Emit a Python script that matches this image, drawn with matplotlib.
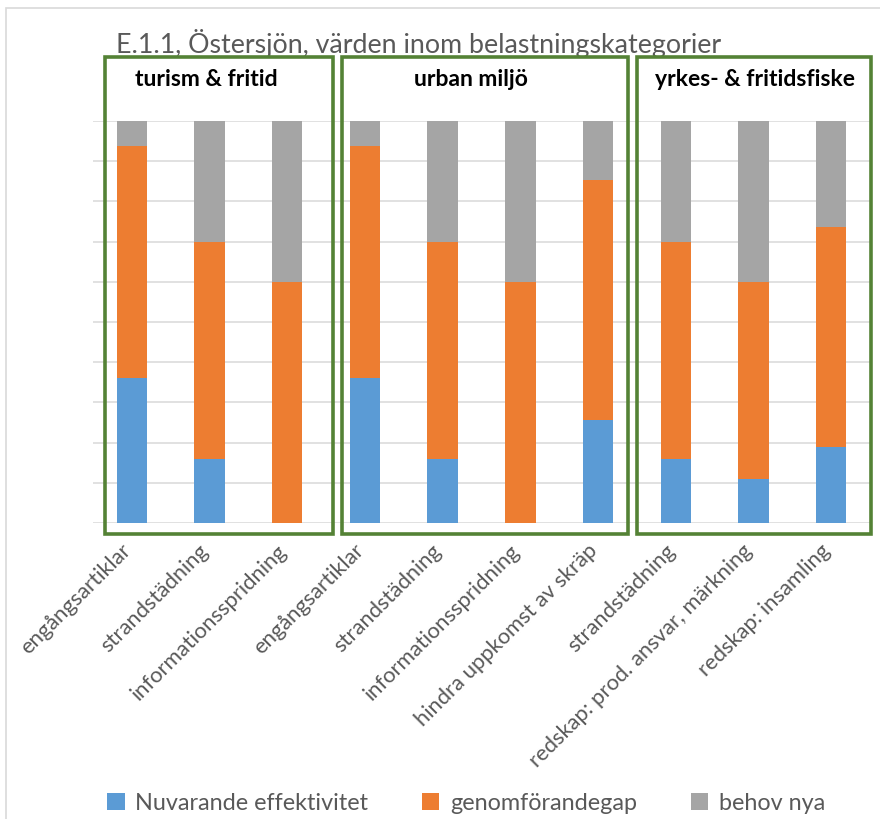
import matplotlib
matplotlib.use("Agg")
import matplotlib.pyplot as plt
from matplotlib.patches import Rectangle
import matplotlib.transforms as mtransforms
import numpy as np

plt.rcParams['font.family'] = ['Lato', 'DejaVu Sans']

categories = ["engångsartiklar", "strandstädning", "informationsspridning",
              "engångsartiklar", "strandstädning", "informationsspridning",
              "hindra uppkomst av skräp",
              "strandstädning", "redskap: prod. ansvar, märkning", "redskap: insamling"]
nuvarande = [0.36, 0.16, 0.0, 0.36, 0.16, 0.0, 0.256, 0.16, 0.109, 0.19]
genomforandegap = [0.578, 0.54, 0.60, 0.578, 0.54, 0.60, 0.596, 0.54, 0.49, 0.547]
behov_nya = [0.062, 0.30, 0.40, 0.062, 0.30, 0.40, 0.148, 0.30, 0.401, 0.263]
series_names = ["Nuvarande effektivitet", "genomförandegap", "behov nya"]
groups = ["turism & fritid", "urban miljö", "yrkes- & fritidsfiske"]
title = "E.1.1, Östersjön, värden inom belastningskategorier"

colors = ["#5B9BD5", "#ED7D31", "#A5A5A5"]
W, H = 880, 820
fig = plt.figure(figsize=(W/100, H/100), dpi=100)

# outer chart border
fig.patches.append(Rectangle((6/W, -0.05), 1.2, 1 - 9/H + 0.05, transform=fig.transFigure,
                             fill=False, edgecolor="#D9D9D9", lw=1.2))

ax_l, ax_r, ax_t, ax_b = 93, 870, 122, 524
ax = fig.add_axes([ax_l/W, 1 - ax_b/H, (ax_r-ax_l)/W, (ax_b-ax_t)/H])
x = np.arange(len(categories))
bw = 0.39
b1 = ax.bar(x, nuvarande, bw, color=colors[0], label=series_names[0], zorder=3)
b2 = ax.bar(x, genomforandegap, bw, bottom=nuvarande, color=colors[1], label=series_names[1], zorder=3)
bottom3 = np.array(nuvarande) + np.array(genomforandegap)
b3 = ax.bar(x, behov_nya, bw, bottom=bottom3, color=colors[2], label=series_names[2], zorder=3)

ax.set_xlim(-0.5, len(categories) - 0.5)
ax.set_ylim(0, 1.0)
ax.set_yticks(np.arange(0, 1.01, 0.1))
ax.set_yticklabels([])
ax.yaxis.grid(True, color="#D9D9D9", lw=1.1, zorder=0)
ax.tick_params(axis='both', length=0)
for s in ax.spines.values():
    s.set_visible(False)
ax.set_xticks(x)
ax.set_xticklabels(categories, rotation=45, ha='right', va='top', rotation_mode='anchor',
                   fontsize=15.8, color="#595959")
ax.tick_params(axis='x', pad=12)
offset = mtransforms.ScaledTranslation(-11/100, 0, fig.dpi_scale_trans)
for lbl in ax.get_xticklabels():
    lbl.set_transform(lbl.get_transform() + offset)

# group boxes (pixel extents)
box_px = [(105, 333), (342, 628), (637, 871)]
label_px = [206, 471, 755]
box_top, box_bot = 58, 535
for (l, r), name, lx in zip(box_px, groups, label_px):
    fig.patches.append(Rectangle((l/W, 1 - box_bot/H), (r-l)/W, (box_bot-box_top)/H,
                                 transform=fig.transFigure, fill=False,
                                 edgecolor="#548235", lw=2.6, zorder=5))
    fig.text(lx/W, 1 - 80/H, name, ha='center', va='center', fontsize=16.5,
             fontweight='bold', color='black')

fig.text(116/W, 1 - 44/H, title, ha='left', va='center', fontsize=19.3, color="#595959")

leg = fig.legend(handles=[b1, b2, b3], labels=series_names, loc='center',
                 bbox_to_anchor=(466/W, 1 - 804/H), ncol=3, frameon=False,
                 fontsize=16.8, labelcolor="#595959", handlelength=0.75, handleheight=0.75,
                 handletextpad=0.45, columnspacing=2.3)

fig.savefig("out.png", dpi=100)
